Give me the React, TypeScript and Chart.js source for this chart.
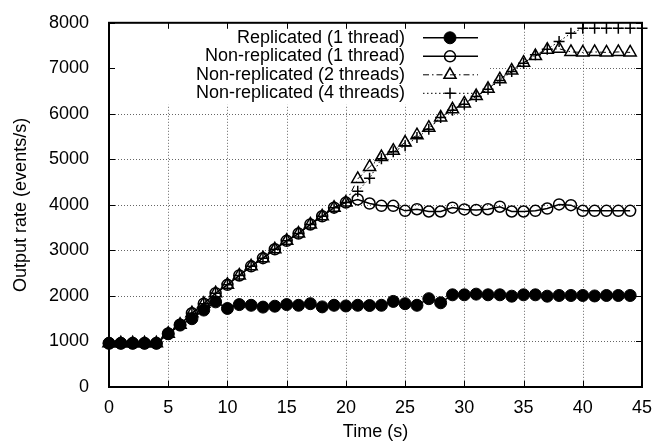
import React, { useEffect, useRef } from "react";
import { Chart, registerables } from "chart.js";

Chart.register(...registerables);

const timeSec = [0, 1, 2, 3, 4, 5, 6, 7, 8, 9, 10, 11, 12, 13, 14, 15, 16, 17, 18, 19, 20, 21, 22, 23, 24, 25, 26, 27, 28, 29, 30, 31, 32, 33, 34, 35, 36, 37, 38, 39, 40, 41, 42, 43, 44, 45];

const replicated1 = [960, 960, 960, 960, 960, 1170, 1360, 1500, 1690, 1870, 1725, 1810, 1795, 1755, 1775, 1810, 1795, 1830, 1760, 1795, 1780, 1795, 1790, 1795, 1880, 1830, 1795, 1940, 1850, 2025, 2025, 2040, 2025, 2025, 1995, 2025, 2025, 1995, 2010, 2010, 2010, 2000, 2010, 2010, 2010];

const nonReplicated1 = [960, 960, 960, 960, 960, 1170, 1370, 1620, 1830, 2060, 2245, 2450, 2650, 2830, 3025, 3210, 3370, 3570, 3750, 3940, 4050, 4120, 4030, 3980, 3980, 3870, 3905, 3855, 3855, 3940, 3900, 3890, 3905, 3960, 3855, 3855, 3870, 3920, 4010, 3995, 3870, 3870, 3870, 3870, 3870];

const nonReplicated2 = [960, 960, 960, 960, 960, 1170, 1370, 1620, 1830, 2060, 2245, 2450, 2650, 2830, 3025, 3210, 3370, 3570, 3750, 3940, 4050, 4570, 4835, 5050, 5190, 5370, 5530, 5695, 5920, 6100, 6230, 6390, 6550, 6760, 6950, 7125, 7270, 7410, 7430, 7360, 7350, 7360, 7350, 7360, 7350];

const nonReplicated4 = [960, 960, 960, 960, 960, 1170, 1370, 1620, 1830, 2060, 2245, 2450, 2650, 2830, 3025, 3210, 3370, 3570, 3750, 3940, 4050, 4300, 4585, 5015, 5170, 5300, 5480, 5660, 5920, 6080, 6210, 6380, 6540, 6730, 6930, 7110, 7300, 7420, 7590, 7770, 7880, 7880, 7880, 7880, 7880, 7880];

const seriesLabels = [
  "Replicated (1 thread)",
  "Non-replicated (1 thread)",
  "Non-replicated (2 threads)",
  "Non-replicated (4 threads)",
];

const xTitle = "Time (s)";
const yTitle = "Output rate (events/s)";
const X_MIN = 0, X_MAX = 45, X_STEP = 5;
const Y_MIN = 0, Y_MAX = 8000, Y_STEP = 1000;

const FONT = "'Liberation Sans', Arial, Helvetica, sans-serif";
const GRID_COLOR = "rgba(0,0,0,0.6)";

const toPoints = (vals: number[]) => vals.map((v, i) => ({ x: timeSec[i], y: v }));

type Style = {
  dash: number[];
  lineWidth: number;
  point: "circle" | "triangle" | "cross";
  radius: number;
  filled: boolean;
  pointBorder: number;
};

const styles: Style[] = [
  { dash: [], lineWidth: 1.5, point: "circle", radius: 6, filled: true, pointBorder: 1 },
  { dash: [], lineWidth: 1.5, point: "circle", radius: 5.5, filled: false, pointBorder: 1.5 },
  { dash: [6, 3, 1.5, 3], lineWidth: 1, point: "triangle", radius: 7, filled: false, pointBorder: 1.5 },
  { dash: [1.5, 2.5], lineWidth: 1, point: "cross", radius: 5.5, filled: false, pointBorder: 1.5 },
];

function drawMarker(ctx: CanvasRenderingContext2D, s: Style, x: number, y: number) {
  ctx.save();
  ctx.setLineDash([]);
  ctx.lineWidth = s.pointBorder;
  ctx.strokeStyle = "#000";
  ctx.fillStyle = "#000";
  ctx.beginPath();
  if (s.point === "circle") {
    ctx.arc(x, y, s.radius, 0, Math.PI * 2);
    if (s.filled) ctx.fill();
    ctx.stroke();
  } else if (s.point === "triangle") {
    const r = s.radius;
    for (let k = 0; k < 3; k++) {
      const a = (k * 2 * Math.PI) / 3;
      const px = x + Math.sin(a) * r;
      const py = y - Math.cos(a) * r;
      if (k === 0) ctx.moveTo(px, py);
      else ctx.lineTo(px, py);
    }
    ctx.closePath();
    ctx.stroke();
  } else {
    const r = s.radius;
    ctx.moveTo(x - r, y);
    ctx.lineTo(x + r, y);
    ctx.moveTo(x, y - r);
    ctx.lineTo(x, y + r);
    ctx.stroke();
  }
  ctx.restore();
}

const framePlugin = {
  id: "gnuplotFrame",
  beforeDatasetsDraw(chart: any) {
    const { ctx, chartArea: a, scales } = chart;
    const xs = scales.x;
    const ys = scales.y;
    ctx.save();
    // grid
    ctx.strokeStyle = GRID_COLOR;
    ctx.lineWidth = 1;
    ctx.setLineDash([1, 2]);
    xs.ticks.forEach((t: any) => {
      if (t.value <= X_MIN || t.value >= X_MAX) return;
      const px = Math.round(xs.getPixelForValue(t.value)) + 0.5;
      ctx.beginPath();
      ctx.moveTo(px, a.top);
      ctx.lineTo(px, a.bottom);
      ctx.stroke();
    });
    ys.ticks.forEach((t: any) => {
      if (t.value <= Y_MIN || t.value >= Y_MAX) return;
      const py = Math.round(ys.getPixelForValue(t.value)) + 0.5;
      ctx.beginPath();
      ctx.moveTo(a.left, py);
      ctx.lineTo(a.right, py);
      ctx.stroke();
    });
    ctx.setLineDash([]);
    // legend box (opaque)
    const boxW = 379, boxH = 81;
    ctx.fillStyle = "#fff";
    ctx.fillRect(a.left + 1, a.top + 1, boxW, boxH);
    // inward tick marks
    ctx.strokeStyle = "#000";
    ctx.lineWidth = 1;
    const tl = 6;
    xs.ticks.forEach((t: any) => {
      const px = Math.round(xs.getPixelForValue(t.value)) + 0.5;
      ctx.beginPath();
      ctx.moveTo(px, a.bottom);
      ctx.lineTo(px, a.bottom - tl);
      ctx.moveTo(px, a.top);
      ctx.lineTo(px, a.top + tl);
      ctx.stroke();
    });
    ys.ticks.forEach((t: any) => {
      const py = Math.round(ys.getPixelForValue(t.value)) + 0.5;
      ctx.beginPath();
      ctx.moveTo(a.left, py);
      ctx.lineTo(a.left + tl, py);
      ctx.moveTo(a.right, py);
      ctx.lineTo(a.right - tl, py);
      ctx.stroke();
    });
    // border
    ctx.lineWidth = 2;
    ctx.strokeRect(a.left, a.top, a.right - a.left, a.bottom - a.top);
    // legend entries
    ctx.font = `18px ${FONT}`;
    ctx.fillStyle = "#000";
    ctx.textAlign = "right";
    ctx.textBaseline = "middle";
    seriesLabels.forEach((label, i) => {
      const yRow = a.top + 15 + i * 18.5;
      const s = styles[i];
      ctx.fillText(label, a.left + 296, yRow);
      ctx.save();
      ctx.setLineDash(s.dash);
      ctx.lineWidth = s.lineWidth;
      ctx.strokeStyle = "#000";
      ctx.beginPath();
      ctx.moveTo(a.left + 314, yRow);
      ctx.lineTo(a.left + 369, yRow);
      ctx.stroke();
      ctx.restore();
      drawMarker(ctx, s, a.left + 341, yRow);
    });
    ctx.restore();
  },
};

export default function App() {
  const ref = useRef<HTMLCanvasElement | null>(null);

  useEffect(() => {
    if (!ref.current) return;
    Chart.defaults.font.family = FONT;
    Chart.defaults.color = "#000";
    const seriesData = [replicated1, nonReplicated1, nonReplicated2, nonReplicated4];
    const datasets = seriesData.map((vals, i) => {
      const s = styles[i];
      return {
        label: seriesLabels[i],
        data: toPoints(vals),
        borderColor: "#000",
        borderWidth: s.lineWidth,
        borderDash: s.dash,
        pointStyle: s.point,
        pointRadius: s.radius,
        pointBorderWidth: s.pointBorder,
        pointBorderColor: "#000",
        pointBackgroundColor: s.filled ? "#000" : "rgba(0,0,0,0)",
        tension: 0,
        fill: false,
        clip: 10,
        order: 3 - i,
      };
    });
    const chart = new Chart(ref.current, {
      type: "line",
      data: { datasets },
      options: {
        animation: false,
        responsive: false,
        devicePixelRatio: 1,
        layout: { padding: { top: 14, right: 29, left: 0, bottom: 0 } },
        plugins: { legend: { display: false }, tooltip: { enabled: false } },
        scales: {
          x: {
            type: "linear",
            min: X_MIN,
            max: X_MAX,
            grid: { display: false },
            border: { display: false },
            ticks: { stepSize: X_STEP, padding: 2, font: { size: 18 }, color: "#000", maxRotation: 0, callback: (v: any) => String(v) },
            title: { display: true, text: xTitle, font: { size: 18 }, color: "#000", padding: { top: 0, bottom: 1 } },
            afterFit: (scale: any) => {
              scale.height = 57;
            },
          },
          y: {
            type: "linear",
            min: Y_MIN,
            max: Y_MAX,
            grid: { display: false },
            border: { display: false },
            ticks: { stepSize: Y_STEP, padding: 12, font: { size: 18 }, color: "#000", callback: (v: any) => String(v) },
            title: { display: true, text: yTitle, font: { size: 18 }, color: "#000", padding: { top: 10, bottom: 0 } },
            afterFit: (scale: any) => {
              scale.width = 109;
            },
          },
        },
      },
      plugins: [framePlugin],
    } as any);
    return () => chart.destroy();
  }, []);

  return (
    <div style={{ position: "absolute", left: 0, top: 0, width: 671, height: 444, background: "#fff" }}>
      <canvas ref={ref} width={671} height={444} style={{ width: 671, height: 444, display: "block" }} />
    </div>
  );
}
